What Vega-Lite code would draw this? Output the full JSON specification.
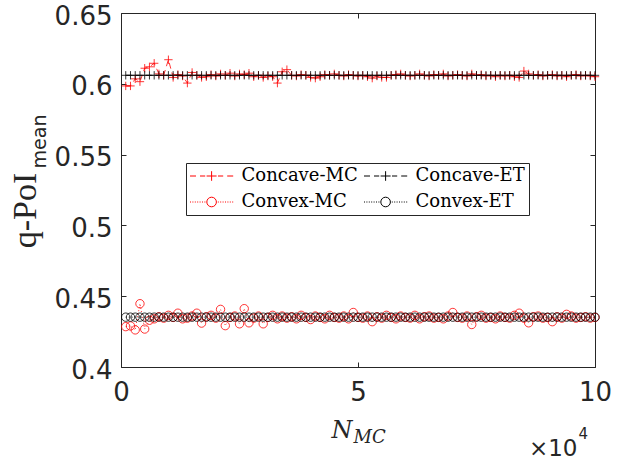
{
"$schema":"https://vega.github.io/schema/vega-lite/v6.json",
"width":474,"height":354,
"autosize":"none",
"padding":{"left":121,"top":13,"right":35,"bottom":93},
"background":"white",
"config":{"view":{"stroke":null},"axis":{"grid":false,"domainColor":"#262626","tickColor":"#262626","labelColor":"#262626","titleColor":"#262626","domainWidth":1,"tickWidth":1,"titleFontWeight":"normal"}},
"data":{"values":[
{"n":1000,"Concave-MC":0.5985,"Concave-ET":0.606,"Convex-MC":0.4285,"Convex-ET":0.4352},
{"n":2000,"Concave-MC":0.5985,"Concave-ET":0.606,"Convex-MC":0.4290,"Convex-ET":0.4352},
{"n":3000,"Concave-MC":0.6035,"Concave-ET":0.606,"Convex-MC":0.4262,"Convex-ET":0.4352},
{"n":4000,"Concave-MC":0.6015,"Concave-ET":0.606,"Convex-MC":0.4447,"Convex-ET":0.4352},
{"n":5000,"Concave-MC":0.6110,"Concave-ET":0.606,"Convex-MC":0.4268,"Convex-ET":0.4352},
{"n":6000,"Concave-MC":0.6120,"Concave-ET":0.606,"Convex-MC":0.4330,"Convex-ET":0.4352},
{"n":7000,"Concave-MC":0.6145,"Concave-ET":0.606,"Convex-MC":0.4340,"Convex-ET":0.4352},
{"n":8000,"Concave-MC":0.6070,"Concave-ET":0.606,"Convex-MC":0.4355,"Convex-ET":0.4352},
{"n":9000,"Concave-MC":0.6060,"Concave-ET":0.606,"Convex-MC":0.4345,"Convex-ET":0.4352},
{"n":10000,"Concave-MC":0.6170,"Concave-ET":0.606,"Convex-MC":0.4365,"Convex-ET":0.4352},
{"n":11000,"Concave-MC":0.6045,"Concave-ET":0.606,"Convex-MC":0.4350,"Convex-ET":0.4352},
{"n":12000,"Concave-MC":0.6065,"Concave-ET":0.606,"Convex-MC":0.4380,"Convex-ET":0.4352},
{"n":13000,"Concave-MC":0.6055,"Concave-ET":0.606,"Convex-MC":0.4340,"Convex-ET":0.4352},
{"n":14000,"Concave-MC":0.6005,"Concave-ET":0.606,"Convex-MC":0.4345,"Convex-ET":0.4352},
{"n":15000,"Concave-MC":0.6080,"Concave-ET":0.606,"Convex-MC":0.4360,"Convex-ET":0.4352},
{"n":16000,"Concave-MC":0.6060,"Concave-ET":0.606,"Convex-MC":0.4380,"Convex-ET":0.4352},
{"n":17000,"Concave-MC":0.6045,"Concave-ET":0.606,"Convex-MC":0.4310,"Convex-ET":0.4352},
{"n":18000,"Concave-MC":0.6050,"Concave-ET":0.606,"Convex-MC":0.4355,"Convex-ET":0.4352},
{"n":19000,"Concave-MC":0.6065,"Concave-ET":0.606,"Convex-MC":0.4365,"Convex-ET":0.4352},
{"n":20000,"Concave-MC":0.6055,"Concave-ET":0.606,"Convex-MC":0.4345,"Convex-ET":0.4352},
{"n":21000,"Concave-MC":0.6070,"Concave-ET":0.606,"Convex-MC":0.4407,"Convex-ET":0.4352},
{"n":22000,"Concave-MC":0.6060,"Concave-ET":0.606,"Convex-MC":0.4292,"Convex-ET":0.4352},
{"n":23000,"Concave-MC":0.6075,"Concave-ET":0.606,"Convex-MC":0.4350,"Convex-ET":0.4352},
{"n":24000,"Concave-MC":0.6055,"Concave-ET":0.606,"Convex-MC":0.4360,"Convex-ET":0.4352},
{"n":25000,"Concave-MC":0.6070,"Concave-ET":0.606,"Convex-MC":0.4305,"Convex-ET":0.4352},
{"n":26000,"Concave-MC":0.6065,"Concave-ET":0.606,"Convex-MC":0.4412,"Convex-ET":0.4352},
{"n":27000,"Concave-MC":0.6075,"Concave-ET":0.606,"Convex-MC":0.4312,"Convex-ET":0.4352},
{"n":28000,"Concave-MC":0.6050,"Concave-ET":0.606,"Convex-MC":0.4345,"Convex-ET":0.4352},
{"n":29000,"Concave-MC":0.6060,"Concave-ET":0.606,"Convex-MC":0.4360,"Convex-ET":0.4352},
{"n":30000,"Concave-MC":0.6045,"Concave-ET":0.606,"Convex-MC":0.4305,"Convex-ET":0.4352},
{"n":31000,"Concave-MC":0.6055,"Concave-ET":0.606,"Convex-MC":0.4350,"Convex-ET":0.4352},
{"n":32000,"Concave-MC":0.6050,"Concave-ET":0.606,"Convex-MC":0.4365,"Convex-ET":0.4352},
{"n":33000,"Concave-MC":0.6005,"Concave-ET":0.606,"Convex-MC":0.4340,"Convex-ET":0.4352},
{"n":34000,"Concave-MC":0.6085,"Concave-ET":0.606,"Convex-MC":0.4360,"Convex-ET":0.4352},
{"n":35000,"Concave-MC":0.6100,"Concave-ET":0.606,"Convex-MC":0.4345,"Convex-ET":0.4352},
{"n":36000,"Concave-MC":0.6060,"Concave-ET":0.606,"Convex-MC":0.4355,"Convex-ET":0.4352},
{"n":37000,"Concave-MC":0.6055,"Concave-ET":0.606,"Convex-MC":0.4340,"Convex-ET":0.4352},
{"n":38000,"Concave-MC":0.6065,"Concave-ET":0.606,"Convex-MC":0.4365,"Convex-ET":0.4352},
{"n":39000,"Concave-MC":0.6060,"Concave-ET":0.606,"Convex-MC":0.4350,"Convex-ET":0.4352},
{"n":40000,"Concave-MC":0.6045,"Concave-ET":0.606,"Convex-MC":0.4335,"Convex-ET":0.4352},
{"n":41000,"Concave-MC":0.6040,"Concave-ET":0.606,"Convex-MC":0.4360,"Convex-ET":0.4352},
{"n":42000,"Concave-MC":0.6050,"Concave-ET":0.606,"Convex-MC":0.4350,"Convex-ET":0.4352},
{"n":43000,"Concave-MC":0.6065,"Concave-ET":0.606,"Convex-MC":0.4340,"Convex-ET":0.4352},
{"n":44000,"Concave-MC":0.6060,"Concave-ET":0.606,"Convex-MC":0.4365,"Convex-ET":0.4352},
{"n":45000,"Concave-MC":0.6070,"Concave-ET":0.606,"Convex-MC":0.4350,"Convex-ET":0.4352},
{"n":46000,"Concave-MC":0.6060,"Concave-ET":0.606,"Convex-MC":0.4345,"Convex-ET":0.4352},
{"n":47000,"Concave-MC":0.6055,"Concave-ET":0.606,"Convex-MC":0.4360,"Convex-ET":0.4352},
{"n":48000,"Concave-MC":0.6065,"Concave-ET":0.606,"Convex-MC":0.4340,"Convex-ET":0.4352},
{"n":49000,"Concave-MC":0.6060,"Concave-ET":0.606,"Convex-MC":0.4385,"Convex-ET":0.4352},
{"n":50000,"Concave-MC":0.6055,"Concave-ET":0.606,"Convex-MC":0.4350,"Convex-ET":0.4352},
{"n":51000,"Concave-MC":0.6060,"Concave-ET":0.606,"Convex-MC":0.4345,"Convex-ET":0.4352},
{"n":52000,"Concave-MC":0.6050,"Concave-ET":0.606,"Convex-MC":0.4360,"Convex-ET":0.4352},
{"n":53000,"Concave-MC":0.6040,"Concave-ET":0.606,"Convex-MC":0.4320,"Convex-ET":0.4352},
{"n":54000,"Concave-MC":0.6055,"Concave-ET":0.606,"Convex-MC":0.4355,"Convex-ET":0.4352},
{"n":55000,"Concave-MC":0.6045,"Concave-ET":0.606,"Convex-MC":0.4345,"Convex-ET":0.4352},
{"n":56000,"Concave-MC":0.6045,"Concave-ET":0.606,"Convex-MC":0.4365,"Convex-ET":0.4352},
{"n":57000,"Concave-MC":0.6060,"Concave-ET":0.606,"Convex-MC":0.4350,"Convex-ET":0.4352},
{"n":58000,"Concave-MC":0.6065,"Concave-ET":0.606,"Convex-MC":0.4340,"Convex-ET":0.4352},
{"n":59000,"Concave-MC":0.6070,"Concave-ET":0.606,"Convex-MC":0.4360,"Convex-ET":0.4352},
{"n":60000,"Concave-MC":0.6060,"Concave-ET":0.606,"Convex-MC":0.4350,"Convex-ET":0.4352},
{"n":61000,"Concave-MC":0.6055,"Concave-ET":0.606,"Convex-MC":0.4345,"Convex-ET":0.4352},
{"n":62000,"Concave-MC":0.6060,"Concave-ET":0.606,"Convex-MC":0.4365,"Convex-ET":0.4352},
{"n":63000,"Concave-MC":0.6070,"Concave-ET":0.606,"Convex-MC":0.4340,"Convex-ET":0.4352},
{"n":64000,"Concave-MC":0.6060,"Concave-ET":0.606,"Convex-MC":0.4355,"Convex-ET":0.4352},
{"n":65000,"Concave-MC":0.6055,"Concave-ET":0.606,"Convex-MC":0.4360,"Convex-ET":0.4352},
{"n":66000,"Concave-MC":0.6065,"Concave-ET":0.606,"Convex-MC":0.4345,"Convex-ET":0.4352},
{"n":67000,"Concave-MC":0.6060,"Concave-ET":0.606,"Convex-MC":0.4350,"Convex-ET":0.4352},
{"n":68000,"Concave-MC":0.6070,"Concave-ET":0.606,"Convex-MC":0.4340,"Convex-ET":0.4352},
{"n":69000,"Concave-MC":0.6055,"Concave-ET":0.606,"Convex-MC":0.4360,"Convex-ET":0.4352},
{"n":70000,"Concave-MC":0.6060,"Concave-ET":0.606,"Convex-MC":0.4385,"Convex-ET":0.4352},
{"n":71000,"Concave-MC":0.6065,"Concave-ET":0.606,"Convex-MC":0.4350,"Convex-ET":0.4352},
{"n":72000,"Concave-MC":0.6060,"Concave-ET":0.606,"Convex-MC":0.4345,"Convex-ET":0.4352},
{"n":73000,"Concave-MC":0.6055,"Concave-ET":0.606,"Convex-MC":0.4360,"Convex-ET":0.4352},
{"n":74000,"Concave-MC":0.6070,"Concave-ET":0.606,"Convex-MC":0.4300,"Convex-ET":0.4352},
{"n":75000,"Concave-MC":0.6060,"Concave-ET":0.606,"Convex-MC":0.4355,"Convex-ET":0.4352},
{"n":76000,"Concave-MC":0.6065,"Concave-ET":0.606,"Convex-MC":0.4365,"Convex-ET":0.4352},
{"n":77000,"Concave-MC":0.6055,"Concave-ET":0.606,"Convex-MC":0.4345,"Convex-ET":0.4352},
{"n":78000,"Concave-MC":0.6060,"Concave-ET":0.606,"Convex-MC":0.4350,"Convex-ET":0.4352},
{"n":79000,"Concave-MC":0.6050,"Concave-ET":0.606,"Convex-MC":0.4340,"Convex-ET":0.4352},
{"n":80000,"Concave-MC":0.6060,"Concave-ET":0.606,"Convex-MC":0.4360,"Convex-ET":0.4352},
{"n":81000,"Concave-MC":0.6055,"Concave-ET":0.606,"Convex-MC":0.4350,"Convex-ET":0.4352},
{"n":82000,"Concave-MC":0.6060,"Concave-ET":0.606,"Convex-MC":0.4345,"Convex-ET":0.4352},
{"n":83000,"Concave-MC":0.6050,"Concave-ET":0.606,"Convex-MC":0.4365,"Convex-ET":0.4352},
{"n":84000,"Concave-MC":0.6045,"Concave-ET":0.606,"Convex-MC":0.4380,"Convex-ET":0.4352},
{"n":85000,"Concave-MC":0.6090,"Concave-ET":0.606,"Convex-MC":0.4345,"Convex-ET":0.4352},
{"n":86000,"Concave-MC":0.6070,"Concave-ET":0.606,"Convex-MC":0.4312,"Convex-ET":0.4352},
{"n":87000,"Concave-MC":0.6060,"Concave-ET":0.606,"Convex-MC":0.4355,"Convex-ET":0.4352},
{"n":88000,"Concave-MC":0.6065,"Concave-ET":0.606,"Convex-MC":0.4360,"Convex-ET":0.4352},
{"n":89000,"Concave-MC":0.6055,"Concave-ET":0.606,"Convex-MC":0.4345,"Convex-ET":0.4352},
{"n":90000,"Concave-MC":0.6060,"Concave-ET":0.606,"Convex-MC":0.4350,"Convex-ET":0.4352},
{"n":91000,"Concave-MC":0.6065,"Concave-ET":0.606,"Convex-MC":0.4320,"Convex-ET":0.4352},
{"n":92000,"Concave-MC":0.6055,"Concave-ET":0.606,"Convex-MC":0.4355,"Convex-ET":0.4352},
{"n":93000,"Concave-MC":0.6060,"Concave-ET":0.606,"Convex-MC":0.4345,"Convex-ET":0.4352},
{"n":94000,"Concave-MC":0.6050,"Concave-ET":0.606,"Convex-MC":0.4372,"Convex-ET":0.4352},
{"n":95000,"Concave-MC":0.6060,"Concave-ET":0.606,"Convex-MC":0.4360,"Convex-ET":0.4352},
{"n":96000,"Concave-MC":0.6065,"Concave-ET":0.606,"Convex-MC":0.4345,"Convex-ET":0.4352},
{"n":97000,"Concave-MC":0.6055,"Concave-ET":0.606,"Convex-MC":0.4350,"Convex-ET":0.4352},
{"n":98000,"Concave-MC":0.6060,"Concave-ET":0.606,"Convex-MC":0.4355,"Convex-ET":0.4352},
{"n":99000,"Concave-MC":0.6055,"Concave-ET":0.606,"Convex-MC":0.4345,"Convex-ET":0.4352},
{"n":100000,"Concave-MC":0.6050,"Concave-ET":0.606,"Convex-MC":0.4350,"Convex-ET":0.4352}
]},
"transform":[{"fold":["Concave-MC","Concave-ET","Convex-MC","Convex-ET"],"as":["series","q"]}],
"layer":[
{"mark":{"type":"line","strokeWidth":0.8,"clip":false},
 "encoding":{
  "x":{"field":"n","type":"quantitative","scale":{"domain":[0,100000],"nice":false,"zero":false},
       "axis":{"orient":"bottom","values":[0,50000,100000],"labelExpr":"datum.value/10000","labelFont":"DejaVu Sans","labelFontSize":26,"tickSize":-5,"labelPadding":17,"labelFlush":false,
               "title":"N","titleFont":"DejaVu Serif","titleFontStyle":"italic","titleFontSize":24,"titleX":231,"titleY":70,"titleAlign":"right","titleBaseline":"alphabetic","titleAngle":0}},
  "y":{"field":"q","type":"quantitative","scale":{"domain":[0.4,0.65],"nice":false,"zero":false},
       "axis":{"orient":"left","values":[0.4,0.45,0.5,0.55,0.6,0.65],"format":".2~f","labelFont":"DejaVu Sans","labelFontSize":26,"tickSize":-5,"labelPadding":14,"labelFlush":false,"labelOffset":3,
               "title":"q-PoI","titleFont":"Liberation Serif","titleFontSize":34,"titleX":-86,"titleY":197,"titleAngle":-90,"titleAlign":"center","titleBaseline":"alphabetic"}},
  "color":{"field":"series","type":"nominal","scale":{"domain":["Concave-MC","Concave-ET","Convex-MC","Convex-ET"],"range":["#ff0000","#000000","#ff0000","#000000"]},"legend":null},
  "strokeDash":{"field":"series","type":"nominal","scale":{"domain":["Concave-MC","Concave-ET","Convex-MC","Convex-ET"],"range":[[6,4],[6,4],[1,2],[1,2]]},"legend":null}
 }},
{"mark":{"type":"point","filled":false,"size":70,"strokeWidth":0.8,"opacity":1,"clip":false},
 "encoding":{
  "x":{"field":"n","type":"quantitative",
       "axis":{"orient":"top","values":[0,50000,100000],"labels":false,"tickSize":-5,
               "title":"×10","titleFont":"DejaVu Sans","titleFontSize":23,"titleX":456,"titleY":442,"titleAlign":"right","titleBaseline":"alphabetic","titleAngle":0}},
  "y":{"field":"q","type":"quantitative",
       "axis":{"orient":"right","values":[0.4,0.45,0.5,0.55,0.6,0.65],"labels":false,"tickSize":-5,
               "title":"mean","titleFont":"DejaVu Sans","titleFontSize":19,"titleX":-550,"titleY":128,"titleAngle":-90,"titleAlign":"center","titleBaseline":"alphabetic"}},
  "color":{"field":"series","type":"nominal","scale":{"domain":["Concave-MC","Concave-ET","Convex-MC","Convex-ET"],"range":["#ff0000","#000000","#ff0000","#000000"]},"legend":null},
  "shape":{"field":"series","type":"nominal","scale":{"domain":["Concave-MC","Concave-ET","Convex-MC","Convex-ET"],"range":["M-1,0H1M0,-1V1","M-1,0H1M0,-1V1","circle","circle"]},"legend":null},
  "order":{"field":"series","sort":"descending"}
 }},
{"transform":[{"filter":"false"}],
 "mark":{"type":"point","filled":false,"opacity":1,"strokeWidth":1},
 "encoding":{
  "x":{"field":"n","type":"quantitative",
       "axis":{"orient":"bottom","domain":false,"ticks":false,"labels":false,
               "title":"MC","titleFont":"DejaVu Serif","titleFontStyle":"italic","titleFontSize":18,"titleX":232,"titleY":75,"titleAlign":"left","titleBaseline":"alphabetic","titleAngle":0}},
  "y":{"field":"q","type":"quantitative",
       "axis":{"orient":"left","domain":false,"ticks":false,"labels":false,
               "title":"4","titleFont":"DejaVu Sans","titleFontSize":15,"titleX":457,"titleY":425,"titleAlign":"left","titleBaseline":"alphabetic","titleAngle":0}},
  "color":{"field":"series","type":"nominal","scale":{"domain":["Concave-MC","Concave-ET","Convex-MC","Convex-ET"],"range":["#ff0000","#000000","#ff0000","#000000"]},
           "legend":{"orient":"none","legendX":65,"legendY":150,"direction":"horizontal","columns":2,"title":null,"strokeColor":"#262626","fillColor":"white","padding":4,"labelFont":"DejaVu Serif","labelFontSize":18,"labelColor":"#000000","symbolSize":256,"symbolStrokeWidth":1,"symbolOpacity":1,"symbolOffset":12.6,"labelOffset":21,"columnPadding":4,"rowPadding":8,"labelLimit":300}},
  "shape":{"field":"series","type":"nominal","scale":{"domain":["Concave-MC","Concave-ET","Convex-MC","Convex-ET"],
           "range":["M-2.7,0H-1.95M-1.45,0H-0.8M-0.625,0H0.625M0,-0.6V0.6M0.8,0H1.45M1.95,0H2.7",
                    "M-2.7,0H-1.95M-1.45,0H-0.8M-0.625,0H0.625M0,-0.6V0.6M0.8,0H1.45M1.95,0H2.7",
                    "M-2.7,0h0.125M-2.4,0h0.125M-2.1,0h0.125M-1.8,0h0.125M-1.5,0h0.125M-1.2,0h0.125M-0.9,0h0.125M0.775,0h0.125M1.075,0h0.125M1.375,0h0.125M1.675,0h0.125M1.975,0h0.125M2.275,0h0.125M2.575,0h0.125M0.6,0A0.6,0.6 0 1,1 -0.6,0A0.6,0.6 0 1,1 0.6,0",
                    "M-2.7,0h0.125M-2.4,0h0.125M-2.1,0h0.125M-1.8,0h0.125M-1.5,0h0.125M-1.2,0h0.125M-0.9,0h0.125M0.775,0h0.125M1.075,0h0.125M1.375,0h0.125M1.675,0h0.125M1.975,0h0.125M2.275,0h0.125M2.575,0h0.125M0.6,0A0.6,0.6 0 1,1 -0.6,0A0.6,0.6 0 1,1 0.6,0"]},
           "legend":{"orient":"none","legendX":65,"legendY":150,"direction":"horizontal","columns":2,"title":null,"strokeColor":"#262626","fillColor":"white","padding":4,"labelFont":"DejaVu Serif","labelFontSize":18,"labelColor":"#000000","symbolSize":256,"symbolStrokeWidth":1,"symbolOpacity":1,"symbolOffset":12.6,"labelOffset":21,"columnPadding":4,"rowPadding":8,"labelLimit":300}}
 }}
],
"resolve":{"scale":{"color":"independent","shape":"independent","strokeDash":"independent"},"axis":{"x":"independent","y":"independent"},"legend":{"color":"independent","shape":"independent","strokeDash":"independent"}}
}
